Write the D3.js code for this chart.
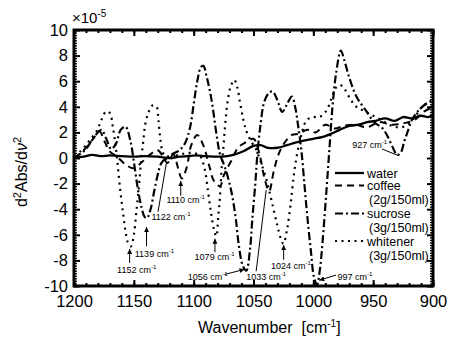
<!DOCTYPE html>
<html>
<head>
<meta charset="utf-8">
<script src="https://cdn.jsdelivr.net/npm/d3@7"></script>
<style>
  body { margin: 0; background: #fff; }
  text { font-family: "Liberation Sans", Arial, sans-serif; fill: #000; }
</style>
</head>
<body>
<div id="chart"></div>
<script>
// wavenumber (cm-1), d2Abs/dv2 (x 1e-5)
const water = [[1200,0.0],[1192,0.1],[1185,0.25],[1178,0.15],[1170,0.2],[1160,0.15],[1150,0.1],[1140,0.15],[1130,0.1],[1120,0.0],[1112,0.1],[1105,0.15],[1098,0.2],[1090,0.15],[1080,0.1],[1072,0.15],[1065,0.3],[1058,0.55],[1050,0.95],[1044,1.0],[1038,0.8],[1030,0.8],[1022,1.0],[1015,1.2],[1008,1.35],[1000,1.5],[992,1.65],[985,1.9],[978,2.2],[970,2.5],[962,2.6],[955,2.8],[948,2.9],[940,3.1],[932,2.9],[925,3.2],[918,3.1],[910,3.3],[904,3.2],[900,3.4]];

const coffee = [[1200,0.0],[1192,0.6],[1184,1.5],[1179,2.1],[1174,1.2],[1170,0.5],[1164,0.1],[1157,-0.5],[1150,-0.8],[1143,-0.3],[1136,0.3],[1130,0.6],[1125,0.0],[1122,-0.4],[1117,0.3],[1113,-0.8],[1110,-1.6],[1106,-0.8],[1102,1.0],[1097,1.8],[1092,1.0],[1087,-0.6],[1083,-1.8],[1078,-2.2],[1075,-1.4],[1072,-0.8],[1069,-0.3],[1063,0.8],[1057,1.2],[1050,1.5],[1045,0.3],[1041,-1.5],[1037,-2.6],[1033,-1.0],[1029,0.3],[1024,1.2],[1018,1.8],[1012,1.9],[1005,2.2],[998,2.0],[990,2.6],[982,2.3],[975,2.5],[965,2.6],[955,2.4],[945,2.8],[935,2.6],[925,2.7],[915,3.0],[908,3.6],[900,4.0]];

const sucrose = [[1200,0.0],[1195,0.3],[1190,0.7],[1185,1.4],[1180,2.0],[1177,2.2],[1173,1.5],[1169,0.7],[1165,1.1],[1161,2.2],[1157,2.45],[1153,1.4],[1150,-0.3],[1147,-2.2],[1144,-3.7],[1141,-4.6],[1139,-4.7],[1136,-4.0],[1133,-2.6],[1130,-1.3],[1127,-0.4],[1123,0.0],[1118,0.3],[1112,0.6],[1107,1.2],[1103,2.4],[1100,4.2],[1097,6.0],[1094,7.1],[1092,7.2],[1089,6.3],[1085,4.5],[1081,1.9],[1078,0.3],[1074,-0.7],[1069,-2.4],[1065,-4.6],[1062,-7.0],[1059,-8.4],[1056,-8.8],[1053,-7.2],[1051,-4.8],[1048.5,-2.0],[1046.5,0.6],[1044,2.7],[1041,4.4],[1037,5.1],[1034,5.2],[1030,4.5],[1026,3.6],[1022,4.2],[1018,4.8],[1015,3.9],[1013,2.7],[1010,0.6],[1007.5,-2.0],[1005,-4.6],[1002,-7.3],[999.5,-9.3],[997,-9.9],[994.5,-8.7],[992,-6.2],[989,-2.5],[986.5,0.8],[984,4.0],[981,6.6],[977,8.4],[974,7.6],[970,6.3],[964,4.8],[956,3.7],[949,2.8],[942,2.3],[938,1.7],[934,0.9],[930,0.25],[927,0.4],[924,1.3],[921,2.1],[918,2.9],[914,3.5],[909,4.0],[903,4.4],[900,4.5]];

const whitener = [[1200,0.2],[1195,0.5],[1190,1.0],[1186,1.5],[1181,2.1],[1177,3.0],[1173,3.65],[1170,3.5],[1167.5,2.4],[1165,0.8],[1163,-1.0],[1161,-2.8],[1159,-4.3],[1157,-5.7],[1155,-6.6],[1152.5,-6.9],[1150,-6.0],[1148,-4.3],[1146,-2.5],[1144,-0.3],[1142,1.4],[1140.5,2.6],[1138,3.5],[1134.5,4.1],[1131,4.0],[1129.5,3.0],[1128,1.6],[1126,0.5],[1122,-0.2],[1117,0.1],[1110,0.3],[1102,0.4],[1095,0.2],[1091,-0.8],[1088,-2.6],[1085.5,-4.3],[1083,-5.6],[1081,-6.1],[1079.5,-4.6],[1078,-3.0],[1076.5,-0.6],[1075,1.0],[1073.5,2.8],[1071.5,4.5],[1069,5.6],[1066,6.1],[1063.5,5.5],[1061,4.2],[1058.5,3.0],[1056,2.1],[1052,1.3],[1048,0.7],[1044,-0.3],[1040,-1.4],[1036.5,-2.7],[1033,-4.1],[1030,-5.3],[1027.5,-6.2],[1025,-6.7],[1022,-5.6],[1019,-3.6],[1016.5,-1.5],[1014,0.1],[1010,1.8],[1006,2.9],[1001,3.2],[995,3.2],[989,3.7],[985,4.6],[981,5.5],[977.5,5.7],[974,5.4],[969,4.6],[964,4.0],[958,3.7],[950,3.3],[942,2.9],[934,2.5],[926,2.4],[919,2.8],[913,3.5],[907,4.2],[903,4.1],[900,3.7]];

const xTicks = [1200, 1150, 1100, 1050, 1000, 950, 900];
const yTicks = [-10, -8, -6, -4, -2, 0, 2, 4, 6, 8, 10];
const seriesNames = ['water', 'coffee', 'sucrose', 'whitener'];
const seriesNotes = ['', '(2g/150ml)', '(3g/150ml)', '(3g/150ml)'];

// peak labels: text, arrow tip, arrow tail, label anchor (all in data units)
const peakLabels = [
  {t: '1152', tip: [1153.5, -7.1], tail: [1153.5, -8.2], at: [1164, -9.0], head: true},
  {t: '1139', tip: [1139.4, -5.4], tail: [1139.4, -6.9], at: [1149.2, -7.7], head: true},
  {t: '1122', tip: [1122.8, -0.4], tail: [1129.8, -4.2], at: [1135.3, -4.85], head: false},
  {t: '1110', tip: [1110.8, -1.8], tail: [1110.8, -2.95], at: [1122.8, -3.55], head: true},
  {t: '1079', tip: [1082.2, -6.3], tail: [1082.2, -7.35], at: [1099.2, -8.0], head: true},
  {t: '1056', tip: [1057.5, -8.7], tail: [1074.2, -9.1], at: [1105, -9.5], head: true},
  {t: '1033', tip: [1039.4, -2.5], tail: [1047.8, -8.85], at: [1056.1, -9.5], head: false},
  {t: '1024', tip: [1024.8, -6.8], tail: [1024.8, -7.95], at: [1035.3, -8.65], head: true},
  {t: '997', tip: [995, -9.55], tail: [981.1, -9.15], at: [979.8, -9.5], head: true},
  {t: '927', tip: [929.2, 0.2], tail: [942.5, 0.7], at: [967.5, 0.82], head: false}
];

const W = 449, H = 337;
const margin = {top: 30, right: 16, bottom: 51, left: 74};
const width = W - margin.left - margin.right;
const height = H - margin.top - margin.bottom;

const svg = d3.select('#chart').append('svg')
  .attr('width', W).attr('height', H);

const defs = svg.append('defs');
defs.append('marker').attr('id', 'head')
  .attr('viewBox', '0 0 6 6').attr('refX', 6).attr('refY', 3)
  .attr('markerWidth', 5).attr('markerHeight', 5)
  .attr('markerUnits', 'userSpaceOnUse').attr('orient', 'auto')
  .append('path').attr('d', 'M0,0L6,3L0,6Z').attr('fill', '#000');
defs.append('clipPath').attr('id', 'plot')
  .append('rect').attr('width', width).attr('height', height);

const g = svg.append('g')
  .attr('transform', 'translate(' + margin.left + ',' + margin.top + ')');

const x = d3.scaleLinear().domain([1200, 900]).range([0, width]);
const y = d3.scaleLinear().domain([-10, 10]).range([height, 0]);

const minorX = d3.range(900, 1201, 10);
const minorY = d3.range(-50, 51).map(i => i / 5);

function styleAxis(sel, w) {
  sel.select('.domain').remove();
  sel.selectAll('line').attr('stroke', '#000').attr('stroke-width', w);
  sel.selectAll('text').attr('font-size', 16.5);
}

// bottom
g.append('g').attr('transform', 'translate(0,' + height + ')')
  .call(d3.axisBottom(x).tickValues(minorX).tickSize(-3).tickFormat(''))
  .call(s => styleAxis(s, 2));
g.append('g').attr('transform', 'translate(0,' + height + ')')
  .call(d3.axisBottom(x).tickValues(xTicks).tickSize(-6).tickPadding(9).tickFormat(d => String(d)))
  .call(s => styleAxis(s, 2));
// top
g.append('g')
  .call(d3.axisTop(x).tickValues(minorX).tickSize(-3).tickFormat(''))
  .call(s => styleAxis(s, 2));
g.append('g')
  .call(d3.axisTop(x).tickValues(xTicks).tickSize(-6).tickFormat(''))
  .call(s => styleAxis(s, 2));
// left
g.append('g')
  .call(d3.axisLeft(y).tickValues(minorY).tickSize(-3).tickFormat(''))
  .call(s => styleAxis(s, 1.3));
g.append('g')
  .call(d3.axisLeft(y).tickValues(yTicks).tickSize(-6).tickPadding(6).tickFormat(d => String(d)))
  .call(s => styleAxis(s, 2));
// right
g.append('g').attr('transform', 'translate(' + width + ',0)')
  .call(d3.axisRight(y).tickValues(minorY).tickSize(-3).tickFormat(''))
  .call(s => styleAxis(s, 1.3));
g.append('g').attr('transform', 'translate(' + width + ',0)')
  .call(d3.axisRight(y).tickValues(yTicks).tickSize(-6).tickFormat(''))
  .call(s => styleAxis(s, 2));

// curves
const line = d3.line()
  .x(d => x(d[0])).y(d => y(d[1]))
  .curve(d3.curveCatmullRom.alpha(0.5));

const styles = {
  water: {w: 2.3, dash: null},
  coffee: {w: 2, dash: '7,5'},
  sucrose: {w: 2.2, dash: '8,3,2,3'},
  whitener: {w: 2.2, dash: '2,4.5'}
};
const seriesData = {water, coffee, sucrose, whitener};

const curves = g.append('g').attr('clip-path', 'url(#plot)');
['whitener', 'sucrose', 'coffee', 'water'].forEach(name => {
  curves.append('path')
    .datum(seriesData[name])
    .attr('d', line)
    .attr('fill', 'none')
    .attr('stroke', '#000')
    .attr('stroke-width', styles[name].w)
    .attr('stroke-dasharray', styles[name].dash);
});

// frame
g.append('rect').attr('width', width).attr('height', height)
  .attr('fill', 'none').attr('stroke', '#000').attr('stroke-width', 3);

// peak labels
const ann = g.append('g');
peakLabels.forEach(p => {
  ann.append('line')
    .attr('x1', x(p.tail[0])).attr('y1', y(p.tail[1]))
    .attr('x2', x(p.tip[0])).attr('y2', y(p.tip[1]))
    .attr('stroke', '#000').attr('stroke-width', 1)
    .attr('marker-end', p.head ? 'url(#head)' : null);
  const t = ann.append('text')
    .attr('x', x(p.at[0])).attr('y', y(p.at[1]))
    .attr('font-size', 9);
  t.append('tspan').text(p.t + ' cm');
  t.append('tspan').attr('dy', -4).attr('font-size', 6).text('-1');
});

// legend
const legend = svg.append('g').attr('transform', 'translate(335,173)');
const rowY = [0, 12.5, 40.5, 68];
seriesNames.forEach((name, i) => {
  legend.append('line')
    .attr('x1', 0).attr('x2', 29).attr('y1', rowY[i]).attr('y2', rowY[i])
    .attr('stroke', '#000')
    .attr('stroke-width', styles[name].w)
    .attr('stroke-dasharray', styles[name].dash);
  legend.append('text').attr('x', 32).attr('y', rowY[i] + 4.5)
    .attr('font-size', 12.5).text(name);
  if (seriesNotes[i]) {
    legend.append('text').attr('x', 34).attr('y', rowY[i] + 18.5)
      .attr('font-size', 12.5).text(seriesNotes[i]);
  }
});

// exponent
const ex = svg.append('text').attr('x', 72).attr('y', 23).attr('font-size', 15);
ex.append('tspan').text('\u00d710');
ex.append('tspan').attr('dy', -6).attr('font-size', 10).text('-5');

// axis titles
const xt = svg.append('text').attr('x', 198).attr('y', 333).attr('font-size', 16);
xt.append('tspan').text('Wavenumber\u00a0\u00a0[cm');
xt.append('tspan').attr('dy', -6).attr('font-size', 10).text('-1');
xt.append('tspan').attr('dy', 6).text(']');

const yt = svg.append('text')
  .attr('transform', 'translate(27,172) rotate(-90)')
  .attr('text-anchor', 'middle').attr('font-size', 16);
yt.append('tspan').text('d');
yt.append('tspan').attr('dy', -6).attr('font-size', 11).text('2');
yt.append('tspan').attr('dy', 6).text('Abs/d');
yt.append('tspan').attr('font-style', 'italic').text('\u03bd');
yt.append('tspan').attr('dy', -6).attr('font-size', 11).text('2');
</script>
</body>
</html>
